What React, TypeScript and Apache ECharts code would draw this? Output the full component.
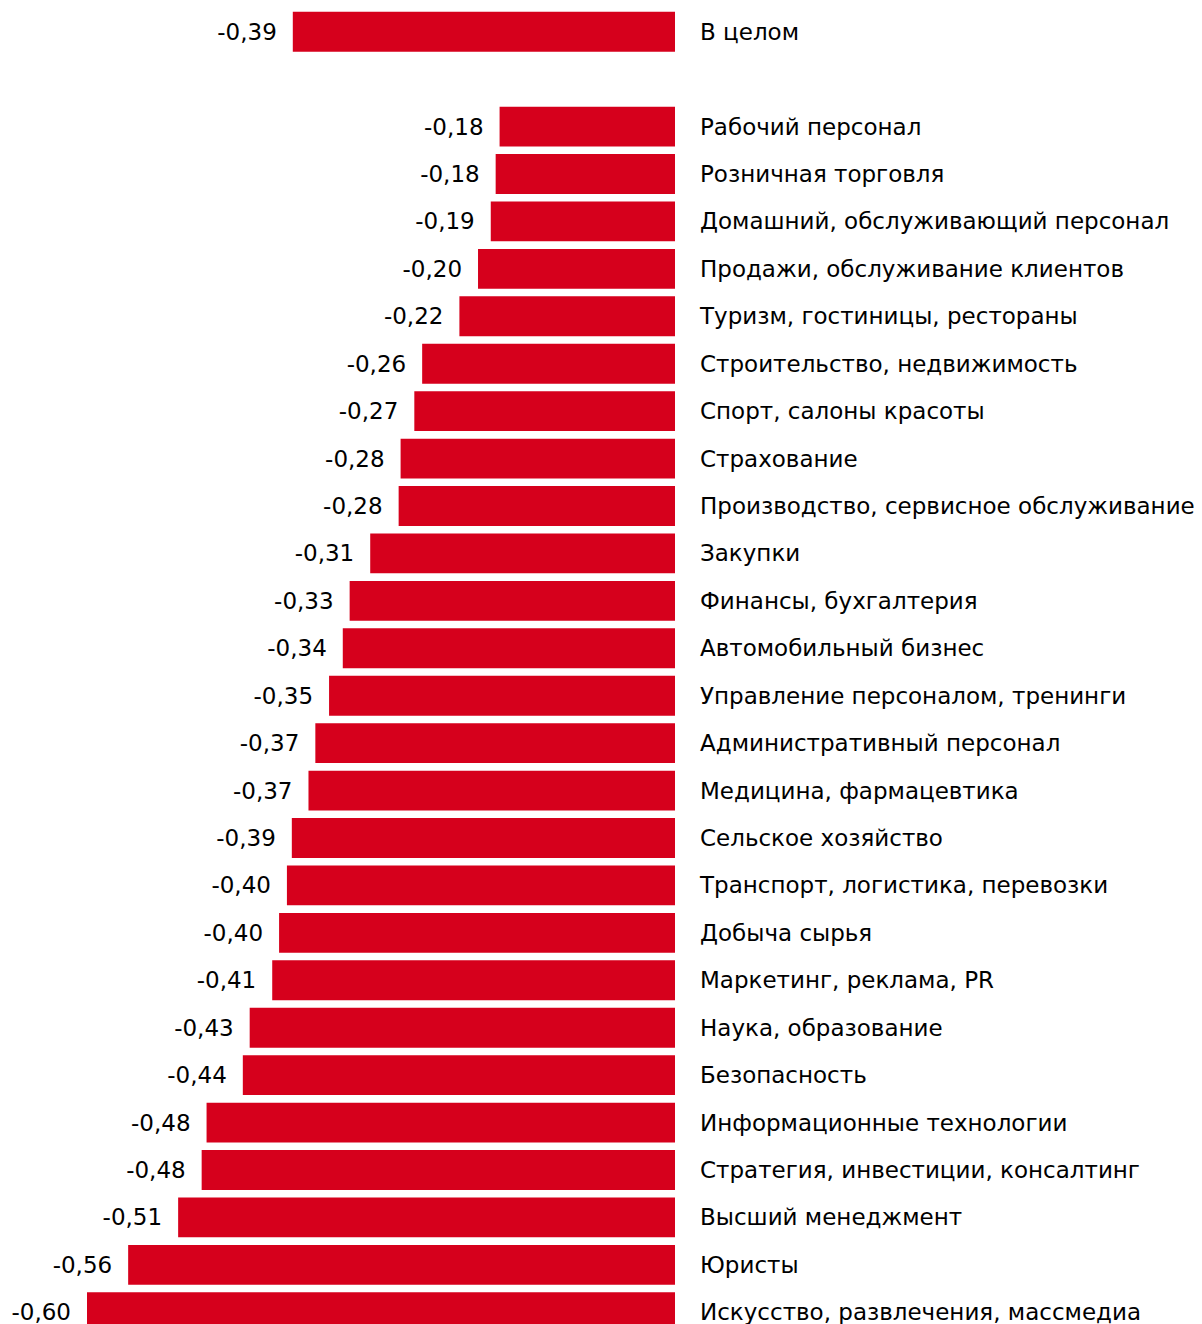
import React, { useEffect, useRef } from "react";
import * as echarts from "echarts";

const categories: string[] = [
  "В целом",
  "",
  "Рабочий персонал",
  "Розничная торговля",
  "Домашний, обслуживающий персонал",
  "Продажи, обслуживание клиентов",
  "Туризм, гостиницы, рестораны",
  "Строительство, недвижимость",
  "Спорт, салоны красоты",
  "Страхование",
  "Производство, сервисное обслуживание",
  "Закупки",
  "Финансы, бухгалтерия",
  "Автомобильный бизнес",
  "Управление персоналом, тренинги",
  "Административный персонал",
  "Медицина, фармацевтика",
  "Сельское хозяйство",
  "Транспорт, логистика, перевозки",
  "Добыча сырья",
  "Маркетинг, реклама, PR",
  "Наука, образование",
  "Безопасность",
  "Информационные технологии",
  "Стратегия, инвестиции, консалтинг",
  "Высший менеджмент",
  "Юристы",
  "Искусство, развлечения, массмедиа",
];

const values: (number | string)[] = [
  -0.39, "-",
  -0.179, -0.183, -0.188, -0.201, -0.22, -0.258, -0.266, -0.28, -0.282,
  -0.311, -0.332, -0.339, -0.353, -0.367, -0.374, -0.391, -0.396, -0.404,
  -0.411, -0.434, -0.441, -0.478, -0.483, -0.507, -0.558, -0.6,
];

const axisMin = -0.6;
const axisMax = 0;

const FONT = "'DejaVu Sans', sans-serif";

export default function App() {
  const ref = useRef<HTMLDivElement>(null);
  useEffect(() => {
    if (!ref.current) return;
    const chart = echarts.init(ref.current, null, { renderer: "svg" });
    chart.setOption({
      animation: false,
      grid: {
        left: 79,
        right: 519,
        top: 0,
        bottom: -12,
        containLabel: false,
        outerBoundsMode: "none",
      },
      xAxis: {
        type: "value",
        min: axisMin,
        max: axisMax,
        show: false,
      },
      yAxis: {
        type: "category",
        data: categories,
        inverse: true,
        position: "right",
        axisLine: { show: false },
        axisTick: { show: false },
        splitLine: { show: false },
        axisLabel: {
          margin: 25,
          align: "left",
          color: "#000",
          fontSize: 23,
          fontFamily: FONT,
        },
      },
      series: [
        {
          type: "bar",
          data: values,
          barCategoryGap: "16%",
          itemStyle: { color: "#d6001c" },
          label: {
            show: true,
            position: "left",
            distance: 16,
            color: "#000",
            fontSize: 23,
            fontFamily: FONT,
            formatter: (p: any) =>
              typeof p.value === "number" ? p.value.toFixed(2).replace(".", ",") : "",
          },
        },
      ],
    });
    return () => chart.dispose();
  }, []);
  return <div ref={ref} style={{ width: 1186, height: 1316 }} />;
}
